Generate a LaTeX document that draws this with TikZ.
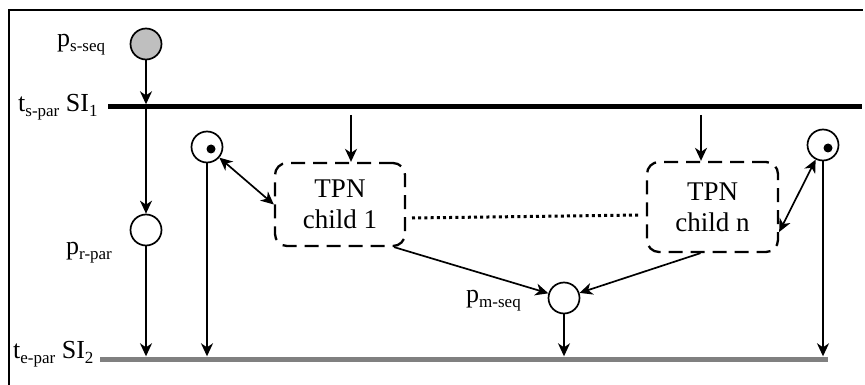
\documentclass[tikz,border=0pt]{standalone}
\usepackage{fontspec}
\setmainfont{Liberation Serif}
\usetikzlibrary{arrows.meta,calc}
% lowered, smaller subscript used in the labels
\newcommand{\lowsub}[1]{\raisebox{-5pt}{\fontsize{17}{17}\selectfont #1}}

\begin{document}
\begin{tikzpicture}[x=1pt,y=-1pt,
  tip/.tip={Stealth[length=13pt,width=12pt,inset=4pt]},
  conn/.style={line width=1.7pt,-tip},
  both/.style={line width=1.7pt,tip-tip},
  place/.style={circle,draw,line width=1.7pt,minimum size=31pt,inner sep=0pt},
  bar/.style={inner sep=0pt,minimum height=5pt},
  tpn/.style={draw,line width=2.3pt,dash pattern=on 14pt off 8pt,rounded corners=12pt,
    align=center,inner sep=0pt,font=\fontsize{27}{31}\selectfont},
  lbl/.style={font=\fontsize{26}{26}\selectfont,inner sep=0pt,anchor=base west}
]
\useasboundingbox (0,0) rectangle (865,385);
\draw[line width=1.5pt] (9,385) -- (9,10) -- (863,10);

% transitions
\node[bar,fill=black,minimum width=754pt] (spar) at (485,107) {};
\node[bar,fill=black!50,minimum width=728pt] (epar) at (464,359) {};

% places
\node[place,fill=black!25] (pss) at (146,44) {};
\node[place] (prp) at (146,230) {};
\node[place] (tokL) at (207,147) {};
\node[place] (tokR) at (823,145) {};
\node[place] (pms) at (564,298) {};
\fill ($(tokL)+(4,2)$) circle (4.5);
\fill ($(tokR)+(5,3)$) circle (4.5);

% sub-nets
\node[tpn,minimum width=130pt,minimum height=83pt] (c1) at (340,204.5) {TPN\\child 1};
\node[tpn,minimum width=131pt,minimum height=90pt] (cn) at (712.5,207) {TPN\\child n};

% labels
\node[lbl] (lpss) at (57,47) {p\lowsub{s-seq}};
\node[lbl] (lspar) at (18,112) {t\lowsub{s-par} SI\lowsub{1}};
\node[lbl] (lprp) at (66,254) {p\lowsub{r-par}};
\node[lbl] (lepar) at (13,358) {t\lowsub{e-par} SI\lowsub{2}};
\node[lbl] (lpms) at (466,302) {p\lowsub{m-seq}};

% auxiliary points
\coordinate (d1) at (351,115);
\coordinate (dn) at (701,115);
\coordinate (c1out) at ($(c1.south east)+(-12,0)$);
\coordinate (cnout) at ($(cn.south)+(-12,0)$);
\coordinate (cnin) at ($(cn.east)+(0,25)$);
\coordinate (dotA) at (412,218);
\coordinate (dotB) at (640,215);

% arcs
\draw[conn] (pss) -- (pss |- spar.north);
\draw[conn] (pss |- spar.center) -- (prp);
\draw[conn] (prp) -- (prp |- epar.north);
\draw[conn] (tokL) -- (tokL |- epar.north);
\draw[conn] (tokR) -- (tokR |- epar.north);
\draw[conn] (pms) -- (pms |- epar.north);
\draw[conn] (d1) -- (d1 |- c1.north);
\draw[conn] (dn) -- (dn |- cn.north);
\draw[both] (tokL) -- (c1.west);
\draw[both] (tokR) -- (cnin);
\draw[conn] (c1out) -- (pms);
\draw[conn] (cnout) -- (pms);
\draw[line width=3pt,dash pattern=on 3pt off 3.2pt] (dotA) -- (dotB);
\end{tikzpicture}
\end{document}
